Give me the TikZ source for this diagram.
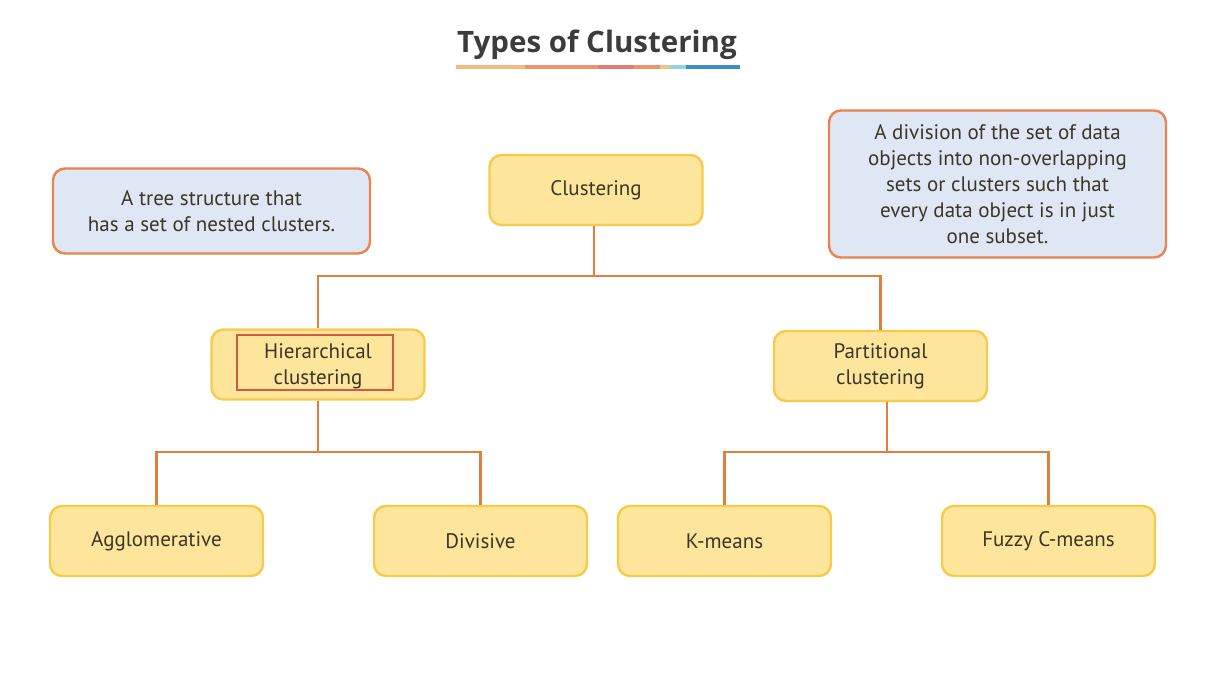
\documentclass[tikz,border=0pt]{standalone}
\usepackage{fontspec}
\setmainfont{PT Sans}
\newfontfamily\titlefont{Open Sans}
\definecolor{boxfill}{HTML}{FDE59C}
\definecolor{boxdraw}{HTML}{F6CB4C}
\definecolor{notefill}{HTML}{DEE7F3}
\definecolor{notedraw}{HTML}{E8844C}
\definecolor{linkc}{HTML}{E0803E}
\definecolor{redbox}{HTML}{D35A3E}
\definecolor{txt}{HTML}{3A3628}
\definecolor{ttl}{HTML}{3C3C3C}
\definecolor{u1}{HTML}{F2BC7E}
\definecolor{u2}{HTML}{E9966A}
\definecolor{u3}{HTML}{E07E74}
\definecolor{u4}{HTML}{F2C08A}
\definecolor{u5}{HTML}{94D2E8}
\definecolor{u6}{HTML}{3C8FC2}
\tikzset{
  ybox/.style={draw=boxdraw, fill=boxfill, line width=2.4pt, rounded corners=12pt,
    minimum width=213pt, minimum height=70pt, align=center, text=txt,
    font=\fontsize{21}{26}\selectfont, inner sep=0pt},
  note/.style={draw=notedraw, fill=notefill, line width=2.4pt, rounded corners=12pt,
    align=center, text=txt, font=\fontsize{21}{26}\selectfont, inner sep=0pt},
  link/.style={draw=linkc, line width=2.4pt}
}
\begin{document}
\begin{tikzpicture}[x=1pt,y=-1pt]
\useasboundingbox[fill=white] (0,0) rectangle (1211,692);
% title
\node[font=\titlefont\bfseries\fontsize{29.5}{34}\selectfont, text=ttl] (title) at (597,45) {Types of Clustering};
\begin{scope}[line width=3.5pt]
\draw[u1] (456,67) -- (525,67);
\draw[u2] (525,67) -- (598,67);
\draw[u3] (598,67) -- (634,67);
\draw[u2] (634,67) -- (660,67);
\draw[u4] (660,67) -- (670,67);
\draw[u5] (670,67) -- (686,67);
\draw[u6] (686,67) -- (740,67);
\end{scope}
% notes
\node[note, minimum width=317pt, minimum height=85pt] (lnote) at (211.5,211)
  {A tree structure that\\has a set of nested clusters.};
\node[note, minimum width=337pt, minimum height=147pt] (rnote) at (997.5,184)
  {A division of the set of data\\objects into non-overlapping\\sets or clusters such that\\every data object is in just\\one subset.};
% boxes
\node[ybox] (clus) at (596,190) {Clustering};
\node[ybox] (hier) at (318,364.5) {};
\node[draw=redbox, line width=1.6pt, minimum width=156pt, minimum height=55pt, inner sep=0pt] (hierr) at (315,362.5) {};
\node[align=center, text=txt, font=\fontsize{21}{26}\selectfont, inner sep=0pt] (hiert) at (318,366) {Hierarchical\\clustering};
\node[ybox] (part) at (880.5,366) {Partitional\\clustering};
\node[ybox] (aggl) at (156.5,541) {Agglomerative};
\node[ybox] (divi) at (480.5,541) {Divisive};
\node[ybox] (kmea) at (724.5,541) {K-means};
\node[ybox] (fuzz) at (1048.5,541) {Fuzzy C-means};
% connectors
\coordinate (j1) at (594,276);
\coordinate (j2) at (318,452);
\coordinate (j3) at (887,452);
\draw[link] (clus.south -| j1) -- (j1) -| (hier.north);
\draw[link] (j1) -| (part.north);
\draw[link] (hier.south) -- (j2) -| (aggl.north);
\draw[link] (j2) -| (divi.north);
\draw[link] (part.south -| j3) -- (j3) -| (kmea.north);
\draw[link] (j3) -| (fuzz.north);
\end{tikzpicture}
\end{document}
